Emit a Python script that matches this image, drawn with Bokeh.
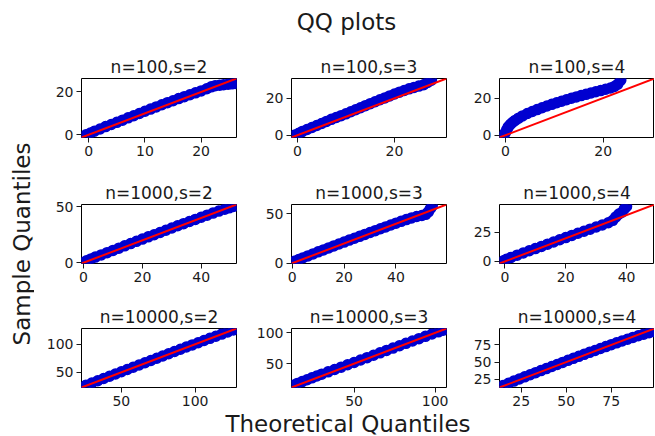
from math import pi
from bokeh.plotting import figure
from bokeh.layouts import column, row, gridplot
from bokeh.models import Label, FixedTicker, Range1d
from bokeh.embed import file_html
from bokeh.resources import INLINE

suptitle = "QQ plots"
xlabel = "Theoretical Quantiles"
ylabel = "Sample Quantiles"

titles = ["n=100,s=2", "n=100,s=3", "n=100,s=4",
          "n=1000,s=2", "n=1000,s=3", "n=1000,s=4",
          "n=10000,s=2", "n=10000,s=3", "n=10000,s=4"]

axis_limits = [(-1.3, 26.3), (-1.2, 30.7), (-1.2, 30.5),
               (-0.7, 52.0), (-0.3, 59.5), (-1.8, 49.2),
               (23.0, 128.0), (11.4, 107.0), (13.0, 99.0)]

x_ticks = [[0, 10, 20], [0, 20], [0, 20],
           [0, 20, 40], [0, 20, 40], [0, 20, 40],
           [50, 100], [50, 100], [25, 50, 75]]
y_ticks = [[0, 20], [0, 20], [0, 20],
           [0, 50], [0, 50], [0, 25],
           [50, 100], [50, 100], [25, 50, 75]]

theo_100_2 = [-0.5, 0.3, 1, 2, 3, 4, 5, 6, 7, 8, 9, 10, 11, 12, 13, 14, 15, 16, 17, 18,
              19, 20, 21, 21.8, 22.5, 23.3, 24, 24.8, 25.5, 26.2]
samp_100_2 = [0, 0.8, 1.6, 2.7, 3.8, 4.8, 5.8, 6.8, 7.9, 8.9, 9.9, 11, 12, 13, 14, 15,
              15.9, 16.9, 17.8, 18.7, 19.6, 20.5, 21.5, 22.4, 22.9, 23.2, 23.4, 23.6, 23.8, 24.0]

theo_100_3 = [-0.5, 0.3, 1, 2, 3, 4, 5, 6, 7, 8, 9, 10, 11, 12, 13, 14, 15, 16, 17, 18,
              19, 20, 21, 22, 23, 24, 25, 26, 26.8, 27.6]
samp_100_3 = [0.2, 1.1, 2, 3.1, 4.2, 5.3, 6.4, 7.5, 8.6, 9.6, 10.6, 11.6, 12.7, 13.8, 14.9,
              16, 17.1, 18.1, 19.2, 20.2, 21.3, 22.3, 23.3, 24.2, 25.1, 25.9, 26.6, 27.3, 28.6, 29.8]

theo_100_4 = [-0.3, 0, 0.3, 0.6, 1, 1.5, 2, 2.7, 3.5, 4.5, 5.5, 6.5, 7.5, 8.5, 9.5, 10.5,
              11.5, 12.5, 13.5, 14.5, 15.5, 16.5, 17.5, 18.5, 19.5, 20.5, 21.5, 22.3, 23, 23.6]
samp_100_4 = [0, 1.5, 3, 4.5, 5.8, 7, 8, 9.2, 10.4, 11.7, 12.8, 13.8, 14.8, 15.7, 16.6, 17.5,
              18.3, 19.1, 19.9, 20.6, 21.3, 22, 22.7, 23.4, 24, 24.7, 25.4, 26.2, 27.5, 29.6]

theo_1000_2 = [0, 1, 2.5, 4, 6, 8, 10, 12, 14, 16, 18, 20, 22, 24, 26, 28, 30, 32, 34, 36,
               38, 40, 42, 44, 46, 48, 49.5, 51, 52]
samp_1000_2 = [0.3, 1.8, 3.4, 5, 7, 9, 11, 13, 15.1, 17.1, 19.1, 21.1, 23.1, 25, 27, 29, 31,
               33, 34.9, 36.8, 38.7, 40.6, 42.5, 44.3, 46.1, 47.8, 49, 50.3, 51.2]

theo_1000_3 = [0, 1, 2.5, 4, 6, 8, 10, 12, 14, 16, 18, 20, 22, 24, 26, 28, 30, 32, 34, 36,
               38, 40, 42, 44, 46, 48, 50, 51.5, 52.5, 53.3, 54]
samp_1000_3 = [0.8, 2.1, 3.7, 5.3, 7.4, 9.4, 11.5, 13.5, 15.5, 17.5, 19.5, 21.4, 23.4, 25.3,
               27.2, 29.2, 31.1, 33, 34.9, 36.8, 38.7, 40.6, 42.4, 44.2, 45.9, 47.3, 48.3,
               49.5, 52, 55.5, 58]

theo_1000_4 = [-0.5, 0.5, 2, 4, 6, 8, 10, 12, 14, 16, 18, 20, 22, 24, 26, 28, 30, 32, 34,
               35.5, 36.5, 37.5, 38.5, 39.3, 40]
samp_1000_4 = [0.5, 1.8, 3.4, 5.4, 7.3, 9.2, 11.1, 13, 14.9, 16.8, 18.7, 20.6, 22.5, 24.3,
               26.1, 27.9, 29.7, 31.5, 33.4, 35.5, 38.5, 41, 42.5, 45.5, 47.5]

theo_10000_2 = [22, 26, 30, 34, 38, 42, 46, 50, 54, 58, 62, 66, 70, 74, 78, 82, 86, 90, 94,
                98, 102, 106, 110, 114, 118, 122, 126, 129]
samp_10000_2 = [23, 27, 31, 35, 39, 43, 47, 51, 55, 59, 63, 67, 71, 75, 79, 83, 87, 91, 95,
                98.8, 102.7, 106.6, 110.5, 114.3, 118, 121.8, 125.5, 128]

theo_10000_3 = [12.5, 15, 18, 21, 24, 27, 30, 34, 38, 42, 46, 50, 54, 58, 62, 66, 70, 74, 78,
                82, 86, 90, 94, 98, 102, 105, 107.5]
samp_10000_3 = [15, 18, 21, 24, 27, 30, 33, 36.8, 40.6, 44.4, 48.2, 52, 55.9, 59.8, 63.7,
                67.6, 71.5, 75.3, 79.1, 82.9, 86.7, 90.5, 94.3, 98, 101.6, 104.3, 106.5]

theo_10000_4 = [12, 15, 18, 21, 24, 27, 30, 33, 36, 39, 42, 45, 48, 51, 54, 57, 60, 63, 66,
                69, 72, 75, 78, 81, 84, 87, 90, 93, 96, 99]
samp_10000_4 = [13, 16, 19.2, 22.3, 25.4, 28.5, 31.6, 34.6, 37.6, 40.6, 43.6, 46.6, 49.6,
                52.6, 55.5, 58.4, 61.3, 64.2, 67, 69.8, 72.6, 75.4, 78.1, 80.8, 83.4, 86,
                88.5, 90.8, 92.8, 94.5]

theoretical = [theo_100_2, theo_100_3, theo_100_4, theo_1000_2, theo_1000_3, theo_1000_4,
               theo_10000_2, theo_10000_3, theo_10000_4]
sample = [samp_100_2, samp_100_3, samp_100_4, samp_1000_2, samp_1000_3, samp_1000_4,
          samp_10000_2, samp_10000_3, samp_10000_4]

FONT = "DejaVu Sans"
TXT = "#1a1a1a"
BLUE = "#0000d0"
RED = "#ff0000"
FRAME_W, FRAME_H = 155, 59
LEFT_B = [47, 45, 45]
RIGHT_B = [10, 8, 0]
TOP_B = 36
BOTTOM_B = [31, 29, 25]
LEFT_W = 34
TOTAL_W = LEFT_W + sum(LEFT_B) + 3 * FRAME_W + sum(RIGHT_B)
TOP_H = 42
BOT_H = 24
BIG = 23
SHIFT = 0.345 * BIG  # offset of rendered baseline below the label anchor


def blank(w, h):
    f = figure(width=w, height=h, x_range=Range1d(0, w), y_range=Range1d(0, h),
               toolbar_location=None, output_backend="svg",
               x_axis_location=None, y_axis_location=None,
               min_border=0, outline_line_color=None)
    f.xgrid.visible = False
    f.ygrid.visible = False
    f.background_fill_color = "white"
    f.border_fill_color = "white"
    return f


panels = []
for i in range(9):
    r, c = divmod(i, 3)
    lo, hi = axis_limits[i]
    p = figure(frame_width=FRAME_W, frame_height=FRAME_H,
               width=LEFT_B[c] + FRAME_W + RIGHT_B[c],
               height=TOP_B + FRAME_H + BOTTOM_B[r],
               x_range=Range1d(lo, hi), y_range=Range1d(lo, hi),
               toolbar_location=None, output_backend="svg",
               min_border_left=LEFT_B[c], min_border_right=RIGHT_B[c],
               min_border_top=TOP_B, min_border_bottom=BOTTOM_B[r])
    p.title.text = titles[i]
    p.title.align = "center"
    p.title.text_font = FONT
    p.title.text_font_size = "17px"
    p.title.text_font_style = "normal"
    p.title.text_color = TXT
    p.title.standoff = 3
    p.xgrid.visible = False
    p.ygrid.visible = False
    p.outline_line_color = "black"
    p.outline_line_width = 1
    p.outline_line_alpha = 1
    p.background_fill_color = "white"
    p.border_fill_color = "white"
    for ax, t in ((p.xaxis[0], x_ticks[i]), (p.yaxis[0], y_ticks[i])):
        ax.ticker = FixedTicker(ticks=t)
        ax.axis_line_color = None
        ax.major_tick_in = 0
        ax.major_tick_out = 5
        ax.major_tick_line_color = TXT
        ax.minor_tick_in = 0
        ax.minor_tick_out = 0
        ax.major_label_text_font = FONT
        ax.major_label_text_font_size = "14px"
        ax.major_label_text_color = TXT
        ax.major_label_standoff = 3
    p.scatter(theoretical[i], sample[i], size=10, fill_color=BLUE,
              line_color=BLUE, line_width=1.5)
    p.line([lo, hi], [lo, hi], line_color=RED, line_width=2)
    panels.append(p)

grid = gridplot([panels[0:3], panels[3:6], panels[6:9]], toolbar_location=None)

grid_h = sum(TOP_B + FRAME_H + b for b in BOTTOM_B)

# suptitle: baseline ~29px from top of page, centred at x=346
top = blank(TOTAL_W, TOP_H)
top.add_layout(Label(x=346, y=TOP_H - (29 - SHIFT), text=suptitle, text_align="center",
                     text_baseline="alphabetic", text_font=FONT,
                     text_font_size=f"{BIG}px", text_color=TXT))

# y label: baseline at x~29, centred at page y~243
left = blank(LEFT_W, grid_h)
left.add_layout(Label(x=29 - SHIFT, y=grid_h - (243.5 - TOP_H), text=ylabel, angle=pi / 2,
                      text_align="center", text_baseline="alphabetic", text_font=FONT,
                      text_font_size=f"{BIG}px", text_color=TXT))

# x label: baseline at page y~431, centred at x~347
bottom = blank(TOTAL_W, BOT_H)
bottom.add_layout(Label(x=347.5, y=BOT_H - (19 - SHIFT), text=xlabel, text_align="center",
                        text_baseline="alphabetic", text_font=FONT,
                        text_font_size=f"{BIG}px", text_color=TXT))

layout = column(top, row(left, grid), bottom)

open("out.html", "w").write(file_html(layout, INLINE))
